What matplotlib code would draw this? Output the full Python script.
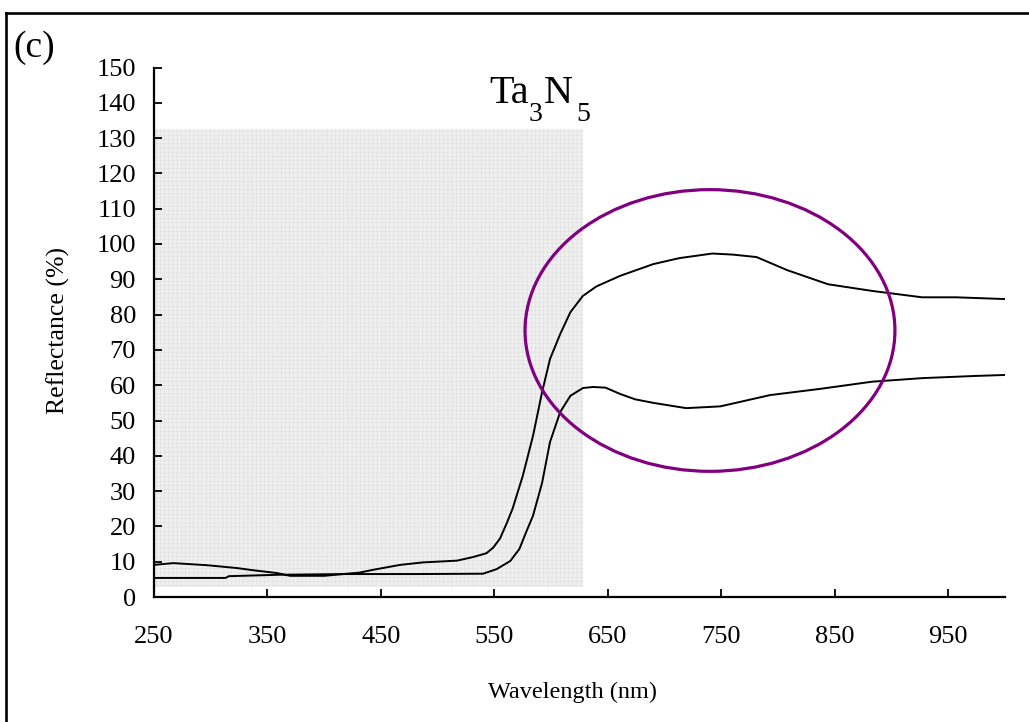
import matplotlib
matplotlib.use("Agg")
import matplotlib.pyplot as plt
from matplotlib.patches import Ellipse, Rectangle
from matplotlib.lines import Line2D

plt.rcParams['font.family'] = ['Liberation Serif', 'DejaVu Serif']
plt.rcParams['hatch.linewidth'] = 0.3

# ---- data ----
wl_a = [250, 267, 297, 323, 337, 358, 370, 400, 420, 431, 443, 467, 487, 517, 531,
        543, 549, 555, 561, 566, 575, 584, 592, 599, 608, 617, 628, 640, 661, 690,
        713, 742, 760, 781, 808, 844, 883, 927, 957, 1000]
ref_a = [9.1, 9.6, 9.0, 8.2, 7.6, 6.8, 6.0, 6.0, 6.6, 6.9, 7.7, 9.1, 9.8, 10.3, 11.3,
         12.4, 14.0, 16.6, 21.0, 25.0, 34.3, 45.6, 58.0, 67.4, 74.5, 80.7, 85.3, 88.0, 91.0, 94.3,
         96.0, 97.3, 97.0, 96.3, 92.6, 88.6, 86.7, 84.9, 84.9, 84.4]

wl_b = [250, 313, 316, 360, 420, 480, 540, 552, 564, 572, 578, 584, 592, 599, 608,
        617, 628, 637, 648, 661, 674, 690, 719, 749, 793, 838, 883, 927, 972, 1000]
ref_b = [5.4, 5.4, 5.9, 6.3, 6.5, 6.5, 6.6, 7.9, 10.2, 13.6, 18.4, 23.0, 32.3, 43.9, 52.4,
         57.0, 59.2, 59.5, 59.3, 57.5, 56.0, 55.0, 53.5, 54.0, 57.2, 59.0, 61.0, 62.0, 62.6, 62.9]

x_ticks = [250, 350, 450, 550, 650, 750, 850, 950]
y_ticks = list(range(0, 151, 10))

shade_x = (250, 628)
shade_y = (2.8, 132.5)
ellipse_center = (740, 75.5)
ellipse_size = (326, 79.8)

# ---- figure ----
W, H = 1029, 722
fig = plt.figure(figsize=(W/100, H/100), dpi=100)
ax = fig.add_axes([154/W, 1-597/H, (1005-154)/W, (597-67.5)/H])

ax.set_xlim(250, 1000)
ax.set_ylim(0, 150)

ax.add_patch(Rectangle((shade_x[0], shade_y[0]), shade_x[1]-shade_x[0], shade_y[1]-shade_y[0],
                       facecolor='#efefef', edgecolor='#dcdcdc', hatch='++++', linewidth=0,
                       zorder=0))

ax.plot(wl_a, ref_a, color='black', lw=1.4, zorder=3)
ax.plot(wl_b, ref_b, color='black', lw=1.4, zorder=3)

ax.add_patch(Ellipse(ellipse_center, ellipse_size[0], ellipse_size[1], fill=False,
                     edgecolor='#800080', lw=2.3, zorder=4))

for s in ['top', 'right']:
    ax.spines[s].set_visible(False)
for s in ['left', 'bottom']:
    ax.spines[s].set_linewidth(1.6)
    ax.spines[s].set_color('black')

ax.set_xticks(x_ticks)
ax.set_yticks(y_ticks)
ax.set_xticklabels([str(v) for v in x_ticks])
ax.set_yticklabels([str(v) for v in y_ticks])
ax.tick_params(axis='x', direction='in', length=6, width=1.3, pad=21, labelsize=19)
ax.tick_params(axis='y', direction='in', length=6, width=1.3, pad=13, labelsize=19)

fig.text(58/W, 1-330/H, 'Reflectance (%)', rotation=90, ha='center', va='center', fontsize=18.5)
fig.text(572/W, 1-692/H, 'Wavelength (nm)', ha='center', va='center', fontsize=17.5)

# formula label with low subscripts
fig.text(489/W, 1-103/H, 'Ta', ha='left', va='baseline', fontsize=29)
fig.text(529/W, 1-121/H, '3', ha='left', va='baseline', fontsize=20)
fig.text(544/W, 1-103/H, 'N', ha='left', va='baseline', fontsize=29)
fig.text(576/W, 1-121/H, '5', ha='left', va='baseline', fontsize=20)

fig.text(34/W, 1-48/H, '(c)', ha='center', va='center', fontsize=27)

# frame around the picture
fig.add_artist(Line2D([6/W, 1.0], [1-13/H, 1-13/H], transform=fig.transFigure,
                      color='black', lw=1.9))
fig.add_artist(Line2D([6/W, 6/W], [1-13/H, 0.0], transform=fig.transFigure,
                      color='black', lw=1.9))

fig.savefig('out.png', dpi=100)
